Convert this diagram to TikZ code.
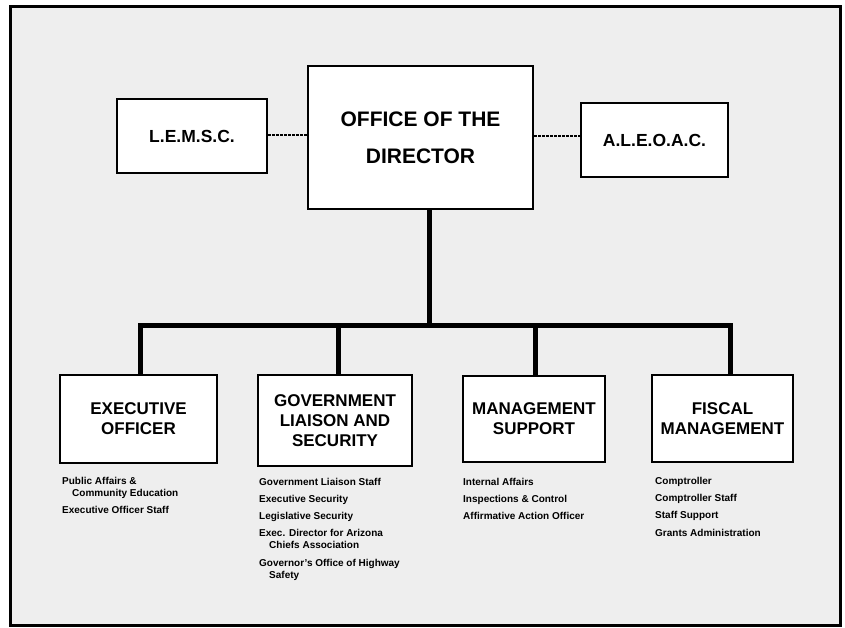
\documentclass[tikz,border=0pt]{standalone}
\usepackage{fontspec}
\setmainfont{Liberation Sans}
\begin{document}
\begin{tikzpicture}[x=1pt,y=-1pt,
  box/.style={draw=black, line width=2.5pt, fill=white, align=center, inner sep=0pt, font=\bfseries},
  side/.style={box, font=\bfseries\fontsize{17.5}{20}\selectfont},
  unit/.style={box, font=\bfseries\fontsize{17}{20}\selectfont},
  conn/.style={line width=5pt, line cap=rect},
  dots/.style={line width=2.5pt, dash pattern=on 2.5pt off 1.5pt},
  list/.style={anchor=north west, inner sep=0pt, align=left, font=\bfseries\fontsize{10}{12}\selectfont}
]
\useasboundingbox (0,0) rectangle (845,627);
\draw[line width=3pt, fill=gray!13] (10,6) rectangle (840,625);

\node[box, minimum width=225pt, minimum height=143pt, font=\bfseries\fontsize{21}{37}\selectfont] (dir) at (420.5,137.5) {OFFICE OF THE\\DIRECTOR};
\node[side, minimum width=150pt, minimum height=74pt] (lemsc) at (192,136) {L.E.M.S.C.};
\node[side, minimum width=147pt, minimum height=74pt] (aleoac) at (654.5,140) {A.L.E.O.A.C.};

\draw[dots] (lemsc.east |- 0,135) -- (dir.west |- 0,135);
\draw[dots] (dir.east |- 0,136) -- (aleoac.west |- 0,136);

\node[unit, minimum width=157pt, minimum height=88pt] (exec) at (138.5,419) {EXECUTIVE\\OFFICER};
\node[unit, minimum width=154pt, minimum height=91pt] (gov) at (335,420.5) {GOVERNMENT\\LIAISON AND\\SECURITY};
\node[unit, minimum width=142pt, minimum height=86pt] (mgmt) at (534,419) {MANAGEMENT\\SUPPORT};
\node[unit, minimum width=141pt, minimum height=87pt] (fisc) at (722.5,418.5) {FISCAL\\MANAGEMENT};

\coordinate (j) at (429,325);
\coordinate (b1) at (140,325);
\coordinate (b2) at (338,325);
\coordinate (b3) at (535,325);
\coordinate (b4) at (730,325);

\draw[conn] (dir.south -| j) -- (j);
\draw[conn] (b1) -- (b4);
\draw[line width=5pt] (b1) -- (b1 |- exec.north);
\draw[line width=5pt] (b2) -- (b2 |- gov.north);
\draw[line width=5pt] (b3) -- (b3 |- mgmt.north);
\draw[line width=5pt] (b4) -- (b4 |- fisc.north);

\node[list] (l1) at (62,477) {Public Affairs \&\\\hspace*{10pt}Community Education\\[5pt]Executive Officer Staff};
\node[list] (l2) at (259,478) {Government Liaison Staff\\[5.5pt]Executive Security\\[5pt]Legislative Security\\[5pt]Exec. Director for Arizona\\\hspace*{10pt}Chiefs Association\\[5.5pt]Governor's Office of Highway\\\hspace*{10pt}Safety};
\node[list] (l3) at (463,478) {Internal Affairs\\[5.5pt]Inspections \& Control\\[5pt]Affirmative Action Officer};
\node[list] (l4) at (655,477) {Comptroller\\[5.5pt]Comptroller Staff\\[5pt]Staff Support\\[5.5pt]Grants Administration};
\end{tikzpicture}
\end{document}
